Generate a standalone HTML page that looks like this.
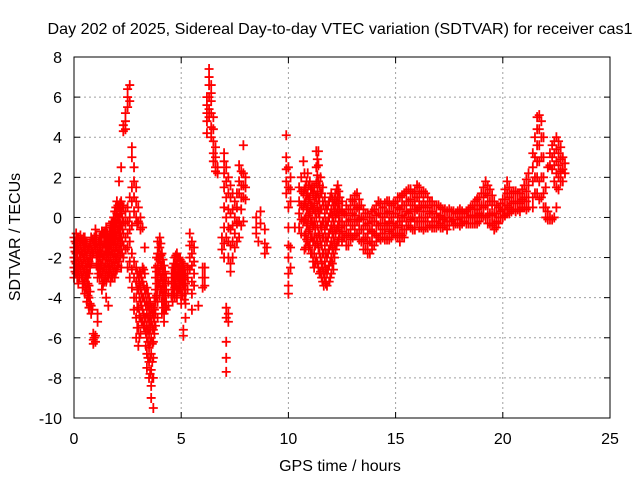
<!DOCTYPE html>
<html><head><meta charset="utf-8"><style>
body{margin:0;background:#fff}
svg text{font-family:"Liberation Sans",sans-serif;font-size:16px;fill:#000}
</style></head><body>
<svg id="chart" width="640" height="480" xmlns="http://www.w3.org/2000/svg">
<text x="340" y="34" text-anchor="middle" textLength="585" lengthAdjust="spacingAndGlyphs">Day 202 of 2025, Sidereal Day-to-day VTEC variation (SDTVAR) for receiver cas1</text>
<text x="340" y="471" text-anchor="middle">GPS time / hours</text>
<text transform="translate(20,237) rotate(-90)" text-anchor="middle">SDTVAR / TECUs</text>
<g id="grid"></g>
<g id="ticks"></g>
<g id="marks"></g>
<rect x="74" y="57" width="536" height="361" fill="none" stroke="#000" stroke-width="1"/>
</svg>
<script>
const xTicks=[0,5,10,15,20,25];
const yTicks=[8,6,4,2,0,-2,-4,-6,-8,-10];
const times=[0,0.1,0.2,0.3,0.4,0.5,0.6,0.7,0.8,0.9,1.0,1.1,1.2,1.3,1.4,1.5,1.6,1.7,1.8,1.9,2.0,2.1,2.2,2.3,2.4,2.5,2.6,2.7,2.8,2.9,3.0,3.1,3.2,3.3,3.4,3.5,3.6,3.7,3.8,3.9,4.0,4.1,4.2,4.3,4.4,4.6,4.7,4.8,4.9,5.0,5.1,5.2,5.3,5.4,5.5,5.6,5.8,6.0,6.1,6.2,6.3,6.4,6.5,6.6,6.7,6.9,7.0,7.1,7.2,7.3,7.4,7.5,7.6,7.7,7.8,7.9,8.0,8.5,8.6,8.7,8.9,9.0,9.9,10.0,10.1,10.3,10.5,10.7,10.8,10.9,11.0,11.1,11.2,11.3,11.4,11.5,11.6,11.7,11.8,11.9,12.0,12.1,12.2,12.3,12.4,12.6,12.8,13.0,13.2,13.4,13.6,13.8,14.0,14.2,14.4,14.6,14.8,15.0,15.2,15.4,15.6,15.8,16.0,16.2,16.4,16.6,16.8,17.0,17.2,17.4,17.6,17.8,18.0,18.2,18.4,18.6,18.8,19.0,19.2,19.4,19.6,19.8,20.0,20.2,20.4,20.6,20.8,21.0,21.2,21.4,21.5,21.6,21.7,21.8,21.9,22.0,22.1,22.2,22.3,22.4,22.5,22.6,22.7,22.8,22.9];
const values=[
[-1,-1.5,-2,-2.5,-3],[-0.8,-1.3,-1.8,-2.3,-2.8],[-1,-1.6,-2.2,-2.7,-3.3],[-0.9,-1.4,-2,-2.6],[-1.2,-1.8,-2.4,-3,-3.5],
[-1,-1.5,-2,-2.6,-3.2,-3.8],[-1.3,-1.9,-2.5,-3,-3.6,-4.2],[-1.5,-2.2,-2.8,-3.4,-4,-4.5],[-1,-1.6,-2.3,-4.4,-4.8],[-1.2,-1.8,-5.8,-6.1,-6.3],
[-0.6,-1.1,-1.6,-5.9,-6.2],[-1.5,-2,-2.5,-3,-4.8,-5.2],[-1,-1.5,-2,-2.5,-3],[-0.7,-1.2,-1.8,-2.4,-3,-3.6],[-0.8,-1.3,-1.9,-2.5,-3.2],
[-0.5,-1,-1.5,-2,-2.6,-3.2,-4],[-1,-1.5,-2,-2.5,-3,-4.4],[-0.4,-0.9,-1.4,-2,-2.6,-3.2],[-0.2,-0.7,-1.2,-1.8,-2.4,-3],[0.3,-0.2,-0.7,-1.2,-1.8,-2.4,-3],
[0.8,0.2,-0.3,-0.9,-1.5,-2.1,-2.6],[1.8,0.5,0,-0.5,-1,-1.6,-2.2],[2.5,0.8,0.2,-0.4,-1,-1.6,-2.5],[4.3,4.6,0.5,-0.2,-0.8,-1.4,-2],[4.4,4.8,5.2,0.3,-0.3,-1,-1.6],
[5.5,6,6.4,0.5,-0.2,-0.8,-1.5,-2.5],[6.6,5.8,1,0,-0.6,-1.2,-2.2,-3],[3.5,3,1.5,0.8,-0.4,-1.8,-2.6,-3.5],[2.5,1.8,1,0.3,-2.2,-3,-4,-4.6],[1.5,0.8,0,-2.5,-3.2,-4,-5,-6],
[0.5,-0.2,-3,-3.6,-4.5,-5.5,-6.4],[0,-0.6,-2.8,-3.5,-4.2,-5,-5.8],[-0.5,-2.5,-3.2,-4,-4.6,-5.2],[-1.5,-2.8,-3.6,-4.2,-5,-5.5],[-3.5,-4.2,-4.8,-5.4,-6,-6.8,-7.5],
[-4,-4.6,-5.2,-5.8,-6.5,-7.2,-8],[-4.5,-5.2,-6,-6.8,-7.6,-8.4,-9],[-4.5,-5,-5.6,-6.2,-7,-8,-9.5],[-2.5,-3,-3.6,-4.2,-4.8,-5.4],[-1.2,-1.8,-2.4,-3,-3.6,-4.2,-5],
[-1,-1.5,-2.1,-2.7,-3.3,-3.9],[-1.8,-2.4,-3,-3.6,-4.2,-4.8],[-2.4,-3,-3.6,-4.2,-4.8,-5.2],[-3,-3.6,-4.2,-4.6],[-3.2,-3.8,-4.4],
[-2.5,-3,-3.6,-4.2],[-2,-2.5,-3,-3.5,-4],[-1.8,-2.3,-2.9,-3.5,-4],[-2,-2.5,-3,-3.5],[-2.2,-2.7,-3.2,-3.8,-4.3],
[-2.4,-2.9,-3.4,-5.6,-5.9],[-2.8,-3.3,-3.8,-4.3,-5],[-2.5,-3,-3.6],[-0.8,-1.4,-2,-2.6],[-1.2,-1.8,-2.4,-3.2,-3.8,-4.6],
[-1.5,-2.2,-2.8,-3.4],[-4.4],[-3,-3.5,-2.5],[-2.5,-3,-3.4],[4.2,4.8,5.2,5.6,6],
[7.4,7,6.6,6,5.4,5],[6.6,6.2,5.8,5.2,4.5,4],[5,4.4,3.8,3.2,2.8],[3.5,3,2.5,2.3],[2.5,2.2],
[-1,-1.6],[3.2,2.8,2.2,1.5,0.5,-0.5,-1.3,-2],[2.5,1.8,1,0,-1,-4.5,-5,-6.2,-7,-7.7],[2,1.2,0.4,-0.5,-1.2,-2,-4.8,-5.2],[1.6,1,0.2,-0.6,-1.4,-2.3,-2.7],
[1.2,0.4,-0.4,-1.2,-2],[0.8,0,-0.8,-1.5],[1.2,0.5,-0.3,-1.2],[2.6,1.8,1.2,-0.2,-1],[2.3,1.6,1,0.4,-0.4],
[3.6,2.2,1.6,1,-0.2],[2,1.5,0.9],[-0.5,0,-0.8],[-1.2],[0.3,-0.3],
[-0.6,-1.3,-1.8],[-1.5],[4.1,3,2.4,1.8,1.2],[2.5,1.5,0.5,-0.5,-1.4,-2,-2.8,-3.4,-3.8],[2,1.4,0.8,-1.5,-2.5],
[-0.5],[1.5,0.8,0.2,-0.5],[2.8,1.2,0.5,-0.2],[1.5,0.8,0,-0.8,-1.5],[2.2,1.2,0.5,-0.3,-1.2],
[1.8,1,0.2,-0.6,-1.4],[1.5,0.6,-0.2,-1,-1.8],[1.5,0.7,-0.2,-1,-1.8,-2.5],[3.3,2.5,1.7,1,0,-1,-2],[3.3,2.6,1.8,1,0.2,-0.8,-1.5,-2.5],
[2,1.2,0.4,-0.4,-1.2,-2,-2.7],[1.5,0.8,-0.2,-1,-1.8,-2.5,-3.2],[1,0.2,-0.6,-1.4,-2.2,-3],[0.4,-0.4,-1.2,-2,-2.8,-3.4],[0.8,0,-0.8,-1.6,-2.4,-3.2],
[1.2,0.4,-0.4,-1.2,-2,-2.8],[0.6,-0.2,-1,-1.8,-2.6],[1.2,0.6,0,-0.8,-1.6],[1.6,1,0.4,-0.4,-1.2],[1,0.4,-0.2,-0.8],
[0.2,-0.4,-1],[0.4,-0.2,-0.8,-1.4],[0.8,0.2,-0.4,-1],[1.2,0.5,-0.2,-0.8],[0.6,0,-0.6,-1.2],
[0.2,-0.4,-1,-1.6],[0,-0.6,-1.2,-1.8],[0.4,-0.2,-0.8,-1.4],[0.8,0.2,-0.4,-1],[0.5,0,-0.6,-1],
[0.8,0.2,-0.4,-1.1],[0.6,0,-0.6,-1],[0.8,0.2,-0.4,-0.9],[1,0.4,-0.2,-0.8,-1.2],[1.2,0.6,0,-0.6,-1],
[1.4,0.8,0.2,-0.4],[1.2,0.6,0,-0.6],[1.6,1,0.4,-0.2],[1.2,0.6,0,-0.5],[1.2,0.6,0,-0.5],
[0.8,0.2,-0.4],[0.6,0,-0.5],[0.6,0,-0.4],[0.4,-0.1,-0.5],[0.3,-0.2,-0.6],
[0.3,-0.2],[0.2,-0.3],[0.4,0,-0.4],[0.2,-0.2],[0.4,0,-0.3],
[0.6,0.1,-0.3],[0.9,0.4,0,-0.3],[1.2,0.6,0.1],[1.8,1.2,0.6,0],[1.4,0.8,0.2,-0.3],
[0.8,0.2,-0.3,-0.6],[0.5,0,-0.3],[0.9,0.4,0],[1.8,1.2,0.6,0.2],[1.2,0.7,0.3],
[1.3,0.8,0.3],[1.2,0.7,0.3],[1.6,1,0.5],[2.2,1.6,1,0.5],[3.2,2.5,1.8,1,0.5],
[4,3,2,1.2],[5,4.4,3.6,2.8,2,1.2],[5.1,4.4,3.6,2.8,1.8,0.9],[4.8,4,3,2,1],[4,3,2,1.2,0.5],
[1.5,0.5,0],[2.5,0.3,-0.1],[3.2,2.6,0,-0.1],[3.6,3,2.4,-0.1],[3.8,3.2,2.6,1.8,0],
[4,3.4,2.8,2.2,1.5,0.5],[3.8,3.2,2.6,2,1.4],[3.5,2.9,2.3,1.8],[3,2.4,1.8],[2.7,2.2]
];
const times2=[0.05,0.15,0.25,0.35,0.45,0.55,0.65,0.75,0.85,0.95,1.05,1.15,1.25,1.35,1.45,1.55,1.65,1.75,1.85,1.95,2.05,2.15,2.25,2.95,3.05,3.15,3.25,3.35,3.45,3.55,3.65,3.75,3.85,3.95,4.05,4.15,4.25,4.55,4.65,4.75,4.85,4.95,5.05,5.15,10.6,10.75,10.85,10.95,11.05,11.15,11.25,11.35,11.45,11.55,11.65,11.75,11.85,11.95,12.05,12.15,12.25,12.35,12.5,12.7,12.9,13.1,13.3,13.5,13.7,13.9,14.1,14.3,14.5,14.7,14.9,15.1,15.3,15.5,15.7,15.9,16.1,16.3,16.5,16.7,16.9,17.1,17.3,17.5,17.7,17.9,18.1,18.3,18.5,18.7,18.9,19.1,19.3,19.5,19.7,19.9,20.1,20.3,20.5,20.7,20.9,21.1];
const values2=[
[-1.2,-1.7,-2.2,-2.7],[-1,-1.5,-2,-2.5,-3],[-1.2,-1.8,-2.4,-3],[-1.1,-1.7,-2.3,-2.9],[-1,-1.5,-2.1,-2.7,-3.3],
[-1.2,-1.7,-2.3,-2.9,-3.5],[-1.6,-2.2,-2.8,-3.3,-3.9],[-1.3,-1.9,-2.5,-3.7,-4.3],[-1.1,-1.7,-2,-4.6],[-1,-1.4,-6],
[-0.9,-1.3,-1.9,-2.4],[-1.2,-1.8,-2.3,-2.8],[-0.9,-1.3,-1.8,-2.3,-2.8],[-0.8,-1.5,-2.1,-2.7,-3.3],[-0.7,-1.2,-1.7,-2.3,-2.9],
[-0.8,-1.3,-1.8,-2.3,-2.9],[-0.7,-1.2,-1.7,-2.3,-2.8],[-0.3,-0.8,-1.2,-1.7,-2.3,-2.9],[0,-0.5,-1,-1.5,-2.1,-2.7],[0.5,0,-0.5,-1,-1.5,-2.1,-2.7],
[0.6,0,-0.6,-1.2,-1.8,-2.4],[0.7,0.2,-0.3,-0.8,-1.3,-1.9],[0.6,0,-0.6,-1.2,-1.8],
[-0.3,-2.8,-3.6,-4.5,-5.5],[-2.7,-3.3,-4,-4.9,-6],[-3,-3.8,-4.4,-5.2],[-2.6,-3.4,-4,-4.8,-5.4],[-3.8,-4.4,-5,-5.7,-6.4],
[-3.8,-4.4,-5,-5.6,-6.2,-7],[-4.3,-4.9,-5.5,-6.2,-7,-7.8],[-4.8,-5.5,-6.3,-7.2,-8],[-4,-4.6,-5.2,-5.8],[-2,-2.7,-3.3,-3.9],
[-1.5,-2.1,-2.7,-3.3],[-1.3,-1.9,-2.4,-3,-3.6],[-2.1,-2.7,-3.3,-3.9,-4.5],[-2.7,-3.3,-3.9,-4.5],
[-2.8,-3.3,-3.9],[-2.3,-2.8,-3.3,-3.8],[-1.9,-2.4,-2.9,-3.4],[-2,-2.5,-3,-3.6],[-2.1,-2.6,-3.1,-3.6],[-2.3,-2.8,-3.3,-3.9],[-2.6,-3.1,-3.6,-4.1],
[2,1.3,0.6,-0.1,-0.8],[2.2,1.4,0.7,-0.1,-0.9,-1.6],[1.8,1.1,0.4,-0.4,-1.1],[1.6,0.9,0.1,-0.7,-1.5],[1.4,0.6,-0.2,-1,-1.8],
[1.2,0.4,-0.4,-1.2,-2.2],[1.1,0.3,-0.5,-1.4,-2.2],[2.9,2.1,1.3,0.5,-0.4,-1.3,-2.3],[1.6,0.8,0,-0.9,-1.8,-2.8],[1.2,0.4,-0.5,-1.4,-2.3,-3],
[0.6,-0.2,-1,-1.8,-2.7,-3.4],[0.6,-0.2,-1,-1.8,-2.6,-3.3],[0.6,-0.2,-1,-1.8,-2.6],[1,0.2,-0.6,-1.4,-2.2,-3],[0.9,0.1,-0.7,-1.5,-2.3],
[0.9,0.3,-0.5,-1.3,-2],[1.4,0.8,0.2,-0.6,-1.4],[1.3,0.7,0.1,-0.5,-1.1],
[0.8,0.3,-0.2,-0.7,-1.2],[0.6,0.1,-0.4,-0.9,-1.4],[0.9,0.4,-0.1,-0.6,-1.1],[1.1,0.6,0.1,-0.4,-0.9],[0.9,0.4,-0.1,-0.6,-1.1],
[0.4,-0.1,-0.6,-1.1,-1.6],[0.2,-0.3,-0.8,-1.3,-1.8],[0.3,-0.2,-0.7,-1.2,-1.6],[0.6,0.1,-0.4,-0.9,-1.2],[0.7,0.2,-0.3,-0.8,-1.1],
[0.7,0.2,-0.3,-0.8,-1.1],[0.8,0.3,-0.2,-0.7,-1.1],[0.7,0.2,-0.3,-0.8],[1,0.5,0,-0.5,-1],[1.1,0.6,0.1,-0.4,-0.9],
[1.3,0.8,0.3,-0.2,-0.6],[1.4,0.9,0.4,-0.1,-0.5],[1.3,0.8,0.3,-0.2,-0.6],[1.5,1,0.5,0,-0.5],[1.3,0.8,0.3,-0.2,-0.6],
[1,0.5,0,-0.5],[0.8,0.3,-0.2,-0.5],[0.6,0.2,-0.2,-0.5],[0.5,0.1,-0.3,-0.5],[0.4,0,-0.4],
[0.4,0,-0.4],[0.3,-0.1,-0.4],[0.3,-0.1,-0.3],[0.3,0,-0.3],[0.3,0,-0.3],
[0.5,0.1,-0.3],[0.8,0.4,0,-0.3],[1,0.6,0.2,-0.2],[1.5,1,0.5,0.1],[1.6,1.1,0.6,0.1,-0.3],
[1.1,0.6,0.1,-0.4],[0.6,0.2,-0.2,-0.5],[0.7,0.3,0],[1.4,0.9,0.4,0.1],[1.5,1,0.5,0.2],
[1.3,0.8,0.4],[1.2,0.8,0.4],[1.4,0.9,0.5],[1.9,1.3,0.8,0.4]
];
const X0=74,X1=610,Y0=418,Y1=57;
const xs=t=>X0+(t-0)/(25-0)*(X1-X0);
const ys=v=>Y0-(v+10)/(8+10)*(Y0-Y1);
const NS="http://www.w3.org/2000/svg";
const grid=document.getElementById('grid'),ticks=document.getElementById('ticks'),marks=document.getElementById('marks');
function mk(tag,attrs,parent){const e=document.createElementNS(NS,tag);for(const k in attrs)e.setAttribute(k,attrs[k]);parent.appendChild(e);return e;}
xTicks.forEach(t=>{const x=xs(t);
 if(t>0&&t<25){const g=mk('line',{x1:x,x2:x,y1:Y1,y2:Y0,stroke:'#a0a0a0','stroke-dasharray':'2,3'},grid);
 
 }
 mk('line',{x1:x,x2:x,y1:Y0,y2:Y0-6,stroke:'#000'},ticks);
 mk('line',{x1:x,x2:x,y1:Y1,y2:Y1+6,stroke:'#000'},ticks);
 const l=mk('text',{x:x,y:444,'text-anchor':'middle'},ticks);l.textContent=t;
 
 
});
yTicks.forEach(v=>{const y=ys(v);
 if(v>-10&&v<8){const g=mk('line',{x1:X0,x2:X1,y1:y,y2:y,stroke:'#a0a0a0','stroke-dasharray':'2,3'},grid);
 
 }
 mk('line',{x1:X0,x2:X0+6,y1:y,y2:y,stroke:'#000'},ticks);
 mk('line',{x1:X1,x2:X1-6,y1:y,y2:y,stroke:'#000'},ticks);
 const l=mk('text',{x:62,y:y+6,'text-anchor':'end'},ticks);l.textContent=v;
 
 
});
let d='';
function addSeries(ts,vs){ts.forEach((t,i)=>{vs[i].forEach(v=>{const x=xs(t),y=ys(v);d+=`M${x-4.5},${y}h9M${x},${y-5}v10`;});});}
addSeries(times,values);
addSeries(times2,values2);
const p=mk('path',{d:d,stroke:'#ff0000','stroke-width':1.8,fill:'none'},marks);


</script>
</body></html>
